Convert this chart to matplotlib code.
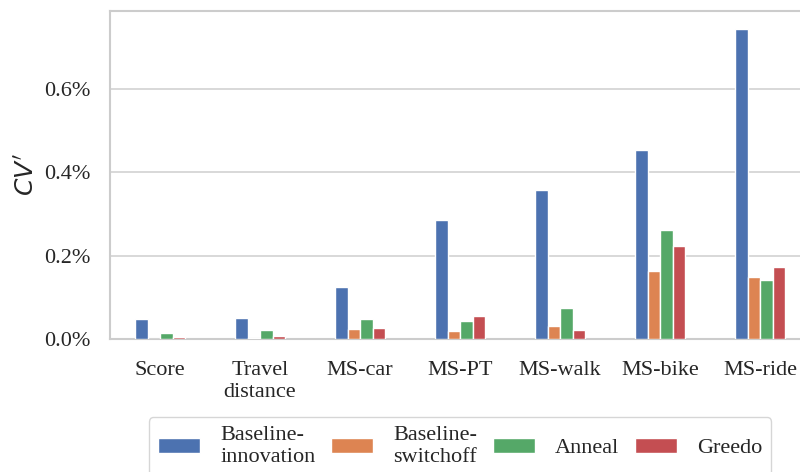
import matplotlib
matplotlib.use("Agg")
import matplotlib.pyplot as plt
from matplotlib.ticker import PercentFormatter
import numpy as np
import seaborn as sns

categories = ["Score", "Travel\ndistance", "MS-car", "MS-PT", "MS-walk", "MS-bike", "MS-ride"]
series_names = ["Baseline-\ninnovation", "Baseline-\nswitchoff", "Anneal", "Greedo"]

# values in percent
baseline_innovation = [0.047, 0.050, 0.124, 0.285, 0.356, 0.453, 0.744]
baseline_switchoff = [0.001, 0.003, 0.024, 0.019, 0.031, 0.162, 0.148]
anneal = [0.014, 0.021, 0.047, 0.044, 0.074, 0.261, 0.141]
greedo = [0.004, 0.007, 0.026, 0.056, 0.022, 0.223, 0.173]

sns.set_theme(style="whitegrid")
plt.rcParams["font.family"] = ["Liberation Serif", "DejaVu Serif"]
plt.rcParams["mathtext.fontset"] = "dejavusans"

colors = ["#4C72B0", "#DD8452", "#55A868", "#C44E52"]
series = [baseline_innovation, baseline_switchoff, anneal, greedo]

fig = plt.figure(figsize=(8, 4.72), dpi=100)
ax = fig.add_axes([0.1375, 0.2818, 0.875, 0.6949])

x = np.arange(len(categories))
step = 0.125
for i, (vals, name, c) in enumerate(zip(series, series_names, colors)):
    ax.bar(x + (i - 1.5) * step, vals, width=step, color=c, label=name,
           edgecolor="white", linewidth=1, zorder=3)

ax.set_xlim(-0.5, len(categories) - 0.5)
ax.set_ylim(0, 0.786)
ax.set_yticks([0, 0.2, 0.4, 0.6])
ax.yaxis.set_major_formatter(PercentFormatter(xmax=100, decimals=1))
ax.set_xticks(x)
ax.set_xticklabels(categories)
ax.tick_params(axis="both", labelsize=16)
ax.tick_params(axis="x", pad=10)
ax.tick_params(axis="y", pad=8)
ax.grid(axis="x", visible=False)
ax.grid(axis="y", color="#d5d5d5", linewidth=1.3, zorder=0)
for s in ax.spines.values():
    s.set_color("#cccccc")
    s.set_linewidth(1.5)
ax.set_ylabel("$CV'$", fontsize=18, labelpad=4)

ax.legend(loc="upper center", bbox_to_anchor=(0.5, -0.2045), ncol=4, fontsize=16,
          frameon=True, handlelength=1.9, handleheight=0.63, handletextpad=0.9,
          columnspacing=0.7, borderpad=0.4, edgecolor="#cccccc")

fig.savefig("out.png", dpi=100)
